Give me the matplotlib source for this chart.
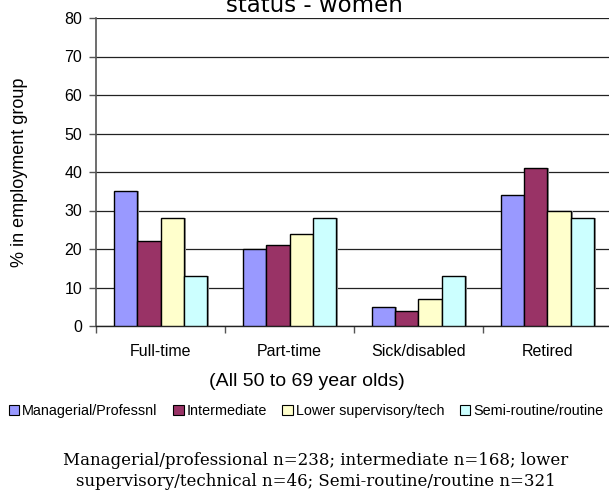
import matplotlib
matplotlib.use("Agg")
import matplotlib.pyplot as plt
import numpy as np
from matplotlib.patches import Patch

categories = ["Full-time", "Part-time", "Sick/disabled", "Retired"]
groups = ["Managerial/Professnl", "Intermediate", "Lower supervisory/tech", "Semi-routine/routine"]
managerial = [35, 20, 5, 34]
intermediate = [22, 21, 4, 41]
lower_supervisory = [28, 24, 7, 30]
semi_routine = [13, 28, 13, 28]
series = [managerial, intermediate, lower_supervisory, semi_routine]
colors = ["#9999FF", "#993366", "#FFFFCC", "#CCFFFF"]

W, H = 609, 492
fig = plt.figure(figsize=(W / 100, H / 100), dpi=100)
ax = fig.add_axes([96 / W, 1 - 326 / H, (612 - 96) / W, (326 - 18) / H])

x = np.arange(len(categories))
bw = 0.182
for i, (vals, col, name) in enumerate(zip(series, colors, groups)):
    offs = (i - 1.5) * bw
    # soft drop shadow to the right of each bar
    ax.bar(x + offs + 0.012, vals, bw, color="#9a9a9a", edgecolor="none", zorder=2)
    ax.bar(x + offs, vals, bw, color=col, edgecolor="black", linewidth=1.0,
           label=name, zorder=3)

ax.set_xlim(-0.5, 3.5)
ax.set_ylim(0, 80)
ax.set_yticks(np.arange(0, 81, 10))
ax.yaxis.grid(True, color="#222222", linewidth=0.9, zorder=0)
ax.set_axisbelow(True)

ax.set_xticks(x)
ax.set_xticklabels(categories, fontsize=11.5, fontfamily="Liberation Sans")
ax.set_xticks(np.arange(-0.5, 4.0, 1.0), minor=True)
ax.tick_params(axis="x", which="major", length=0, pad=13)
ax.tick_params(axis="x", which="minor", length=5, color="#555555", width=1)
ax.tick_params(axis="y", length=5, color="#555555", width=1, pad=5)
for lab in ax.get_yticklabels():
    lab.set_fontsize(11.5)
    lab.set_fontfamily("Liberation Sans")

for s in ["top", "right"]:
    ax.spines[s].set_visible(False)
ax.spines["left"].set_color("#555555")
ax.spines["left"].set_linewidth(1.2)
ax.spines["bottom"].set_color("#222222")
ax.spines["bottom"].set_linewidth(1.0)

fig.text(20 / W, 1 - 172 / H, "% in employment group", rotation=90, ha="center", va="center",
         fontsize=13, fontfamily="Liberation Sans")

fig.text(314 / W, 1 - 12 / H, "status - women", ha="center", va="baseline",
         fontsize=16.5, fontfamily="DejaVu Sans")

fig.text(307 / W, 1 - 381 / H, "(All 50 to 69 year olds)", ha="center", va="center",
         fontsize=14, fontfamily="Liberation Sans")

handles = [Patch(facecolor=c, edgecolor="black", linewidth=0.8) for c in colors]
fig.legend(handles, groups, loc="center", bbox_to_anchor=(306 / W, 1 - 411 / H), ncol=4,
           frameon=False, handlelength=0.75, handleheight=0.75,
           handletextpad=0.2, columnspacing=1.05, borderaxespad=0,
           prop={"family": "Liberation Sans", "size": 10.4})

fig.text(316 / W, 1 - 471 / H,
         "Managerial/professional n=238; intermediate n=168; lower\n"
         "supervisory/technical n=46; Semi-routine/routine n=321",
         ha="center", va="center", fontsize=12, fontfamily="DejaVu Serif",
         linespacing=1.3)

fig.savefig("out.png", dpi=100)
